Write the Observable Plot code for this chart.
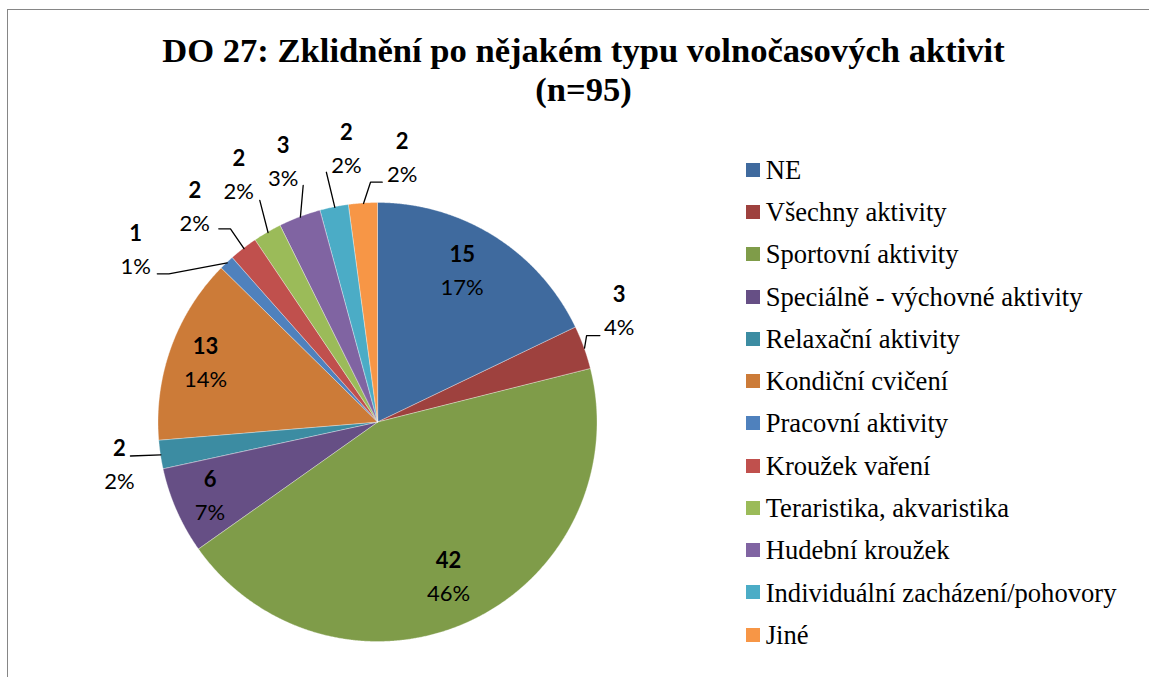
<!DOCTYPE html>
<html>
<head>
<meta charset="utf-8">
<script src="https://cdn.jsdelivr.net/npm/d3@7"></script>
<script src="https://cdn.jsdelivr.net/npm/@observablehq/plot@0.6"></script>
<style>
html,body{margin:0;padding:0;background:#fff;}
#wrap{position:relative;width:1149px;height:677px;overflow:hidden;background:#fff;}
#frame{position:absolute;left:7px;top:9px;width:1200px;height:720px;border-left:1.5px solid #868686;border-top:1.5px solid #868686;box-sizing:border-box;}
#title{position:absolute;left:0;top:31px;width:1167px;text-align:center;font-family:"Liberation Serif","Times New Roman",serif;font-weight:bold;font-size:34.6px;line-height:39px;color:#000;}
#chart{position:absolute;left:0;top:0;}
.sw{position:absolute;width:14px;height:14px;}
.lt{position:absolute;font-family:"Liberation Serif","Times New Roman",serif;font-size:26.6px;line-height:26px;white-space:nowrap;color:#000;}
</style>
</head>
<body>
<div id="wrap">
  <div id="frame"></div>
  <div id="chart"></div>
  <div id="title">DO 27: Zklidnění po nějakém typu volnočasových aktivit<br>(n=95)</div>
  <div id="legend"></div>
</div>
<script>
// ---- data ----
const categories = ["NE","Všechny aktivity","Sportovní aktivity","Speciálně - výchovné aktivity","Relaxační aktivity","Kondiční cvičení","Pracovní aktivity","Kroužek vaření","Teraristika, akvaristika","Hudební kroužek","Individuální zacházení/pohovory","Jiné"];
const counts = [15,3,42,6,2,13,1,2,2,3,2,2];
const percents = [17,4,46,7,2,14,1,2,2,3,2,2];
// slice shares as drawn in the picture (percent of the circle)
const shares = [17.9,3.2,44.1,6.4,2.1,13.7,1.1,2.1,2.1,3.1,2.1,2.1];
const colors = ["#3F6A9E","#9E413E","#7F9C49","#664F85","#3C8CA2","#CC7B38","#4F81BD","#C0504D","#9BBB59","#8064A2","#4BACC6","#F79646"];

// ---- layout ----
const W = 1149, H = 677;
const cx = 377.5, cy = 422, R = 219.5;
// label placement (angle in degrees clockwise from 12 o'clock, radius as fraction of R)
const labelAngle = [29.2,65.3,155.5,246.1,260.6,289.0,305.35,319.6,330.6,339.95,353.4,5.25];
const labelRadius = [0.786,1.209,0.774,0.837,1.194,0.831,1.354,1.288,1.292,1.26,1.254,1.206];
// leader line offsets from label centre: [elbow, end] (elbow null = straight)
const leaders = {
  1: [[-32.5,24],[-19.2,24]],
  4: [null,[11,-9.3]],
  6: [[33.3,23.3],[21.7,23.3]],
  7: [[35.7,21.6],[24,21.6]],
  8: [null,[21,25]],
  9: [null,[20,22.8]],
  10: [null,[-20,23.2]],
  11: [[-31.7,23.3],[-20,23.3]]
};

const rad = a => a * Math.PI / 180;
const total = d3.sum(shares);
let cum = 0;
const slices = categories.map((c, i) => {
  const a0 = cum / total * 360; cum += shares[i];
  const a1 = cum / total * 360;
  return {c, i, a0, a1, mid: (a0 + a1) / 2};
});
const arcPts = slices.flatMap(s => {
  const n = Math.max(2, Math.ceil((s.a1 - s.a0) / 0.25));
  return d3.range(n + 1).map(k => {
    const a = rad(s.a0 + (s.a1 - s.a0) * k / n);
    return {c: s.c, x1: cx + R * Math.sin(a), y1: cy - R * Math.cos(a), x2: cx, y2: cy};
  });
});
const labels = slices.map(s => {
  const a = rad(labelAngle[s.i]), r = R * labelRadius[s.i];
  return {c: s.c, i: s.i, x: cx + r * Math.sin(a), y: cy - r * Math.cos(a)};
});
const leaderPts = [];
for (const key of Object.keys(leaders)) {
  const i = +key, s = slices[i], lab = labels[i];
  const [elbow, end] = leaders[i];
  const a = rad(s.mid);
  leaderPts.push({c: s.c, x: cx + R * Math.sin(a), y: cy - R * Math.cos(a)});
  if (elbow) leaderPts.push({c: s.c, x: lab.x + elbow[0], y: lab.y + elbow[1]});
  leaderPts.push({c: s.c, x: lab.x + end[0], y: lab.y + end[1]});
}

const chart = Plot.plot({
  width: W, height: H, margin: 0,
  style: {background: "transparent", fontFamily: "Lato"},
  x: {type: "linear", domain: [0, W], range: [0, W], axis: null},
  y: {type: "linear", domain: [0, H], range: [0, H], axis: null},
  color: {type: "ordinal", domain: categories, range: colors},
  marks: [
    Plot.area(arcPts, {x1: "x1", y1: "y1", x2: "x2", y2: "y2", z: "c", fill: "c", stroke: "#ffffff", strokeWidth: 0.6, strokeOpacity: 0.55, curve: "linear"}),
    Plot.line(leaderPts, {x: "x", y: "y", z: "c", stroke: "#000", strokeWidth: 1.3, curve: "linear"}),
    Plot.text(labels, {x: "x", y: "y", text: d => String(counts[d.i]), dy: -16.5, fontSize: 22, fontWeight: "bold", fill: "#000", fontFamily: "Lato"}),
    Plot.text(labels, {x: "x", y: "y", text: d => percents[d.i] + "%", dy: 16.5, fontSize: 22, fill: "#000", fontFamily: "Lato"})
  ]
});
document.getElementById("chart").appendChild(chart);

// ---- legend ----
const legend = document.getElementById("legend");
categories.forEach((c, i) => {
  const step = 42.27;
  const sw = document.createElement("div");
  sw.className = "sw";
  sw.style.left = "746px";
  sw.style.top = (162.7 + i * step) + "px";
  sw.style.background = colors[i];
  legend.appendChild(sw);
  const t = document.createElement("div");
  t.className = "lt";
  t.style.left = "765.7px";
  t.style.top = (179 + i * step - 22.2) + "px";
  t.textContent = c;
  legend.appendChild(t);
});
</script>
</body>
</html>
